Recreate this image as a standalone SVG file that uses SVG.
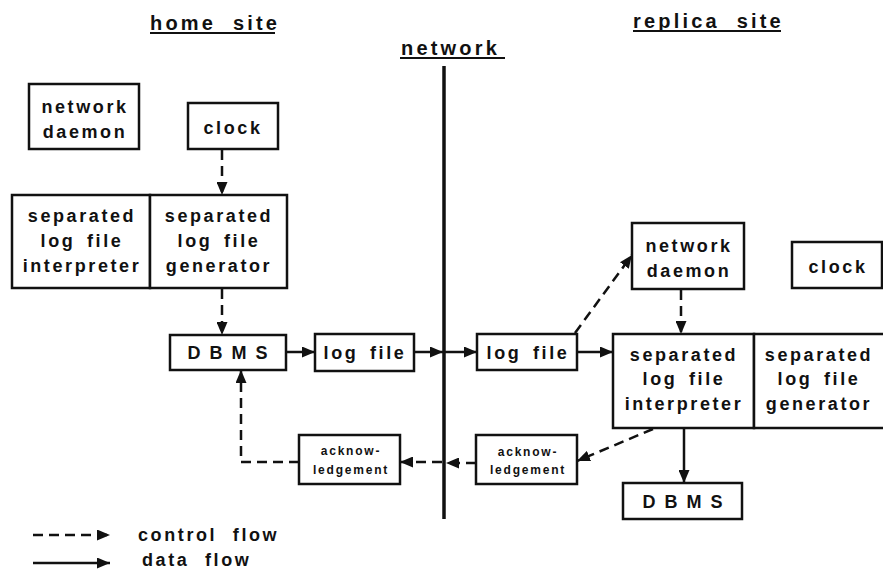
<svg xmlns="http://www.w3.org/2000/svg" width="883" height="571" viewBox="0 0 883 571">
<style>
  .box { fill: #fff; stroke: #111; stroke-width: 2.5; }
  .t { font-family: "Liberation Sans", Arial, sans-serif; font-weight: bold; font-size: 18px; letter-spacing: 2.6px; word-spacing: 4px; fill: #111; text-anchor: middle; }
  .s { font-family: "Liberation Sans", Arial, sans-serif; font-weight: bold; font-size: 12px; letter-spacing: 1.8px; fill: #111; text-anchor: middle; }
  .d { letter-spacing: 9px; }
  .h { font-family: "Liberation Sans", Arial, sans-serif; font-weight: bold; font-size: 20px; letter-spacing: 3.2px; word-spacing: 8px; fill: #111; }
  .lg { font-family: "Liberation Sans", Arial, sans-serif; font-weight: bold; font-size: 18px; letter-spacing: 2.6px; word-spacing: 8px; fill: #111; }
  .ul { stroke: #111; stroke-width: 2; }
  .solid { fill: none; stroke: #111; stroke-width: 2.5; marker-end: url(#ah); }
  .dash { fill: none; stroke: #111; stroke-width: 2.5; stroke-dasharray: 10 6; marker-end: url(#ah); }
</style>
<defs>
  <marker id="ah" markerUnits="userSpaceOnUse" markerWidth="13" markerHeight="11" refX="13" refY="5.5" orient="auto">
    <path d="M0,0 L13,5.5 L0,11 z" fill="#111"/>
  </marker>
</defs>
<rect width="883" height="571" fill="#fff"/>

<g id="titles">
  <text class="h" x="150" y="30">home site</text>
  <line class="ul" x1="150" y1="33" x2="275" y2="33"/>
  <text class="h" x="401" y="55">network</text>
  <line class="ul" x1="400" y1="58" x2="505" y2="58"/>
  <text class="h" x="633" y="28">replica site</text>
  <line class="ul" x1="633" y1="31" x2="781" y2="31"/>
</g>

<g id="network-line">
  <line x1="444" y1="66" x2="444" y2="519" stroke="#111" stroke-width="3.5"/>
</g>

<g id="home-network-daemon">
  <rect class="box" x="29" y="84" width="110" height="65"/>
  <text class="t" x="85" y="113">network</text>
  <text class="t" x="85" y="138">daemon</text>
</g>

<g id="home-clock">
  <rect class="box" x="188" y="103" width="90" height="46"/>
  <text class="t" x="233" y="134">clock</text>
</g>

<g id="home-interpreter">
  <rect class="box" x="12" y="195" width="138" height="93"/>
  <text class="t" x="82" y="222">separated</text>
  <text class="t" x="82" y="247">log file</text>
  <text class="t" x="82" y="272">interpreter</text>
</g>

<g id="home-generator">
  <rect class="box" x="150" y="195" width="137" height="93"/>
  <text class="t" x="219" y="222">separated</text>
  <text class="t" x="219" y="247">log file</text>
  <text class="t" x="219" y="272">generator</text>
</g>

<g id="home-dbms">
  <rect class="box" x="170" y="335" width="116" height="35"/>
  <text class="t d" x="232" y="359">DBMS</text>
</g>

<g id="home-log-file">
  <rect class="box" x="315" y="334" width="99" height="37"/>
  <text class="t" x="365" y="359">log file</text>
</g>

<g id="home-ack">
  <rect class="box" x="299" y="435" width="101" height="49"/>
  <text class="s" x="351" y="455">acknow-</text>
  <text class="s" x="351" y="474">ledgement</text>
</g>

<g id="replica-log-file">
  <rect class="box" x="477" y="334" width="100" height="36"/>
  <text class="t" x="528" y="359">log file</text>
</g>

<g id="replica-network-daemon">
  <rect class="box" x="632" y="223" width="112" height="66"/>
  <text class="t" x="689" y="252">network</text>
  <text class="t" x="689" y="277">daemon</text>
</g>

<g id="replica-clock">
  <rect class="box" x="792" y="242" width="90" height="46"/>
  <text class="t" x="838" y="273">clock</text>
</g>

<g id="replica-interpreter">
  <rect class="box" x="613" y="334" width="141" height="94"/>
  <text class="t" x="684" y="361">separated</text>
  <text class="t" x="684" y="385">log file</text>
  <text class="t" x="684" y="410">interpreter</text>
</g>

<g id="replica-generator">
  <rect class="box" x="754" y="334" width="134" height="94"/>
  <text class="t" x="819" y="361">separated</text>
  <text class="t" x="819" y="385">log file</text>
  <text class="t" x="819" y="410">generator</text>
</g>

<g id="replica-dbms">
  <rect class="box" x="623" y="483" width="119" height="36"/>
  <text class="t d" x="687" y="508">DBMS</text>
</g>

<g id="replica-ack">
  <rect class="box" x="476" y="435" width="101" height="49"/>
  <text class="s" x="528" y="456">acknow-</text>
  <text class="s" x="528" y="474">ledgement</text>
</g>

<g id="connectors">
  <path class="dash" d="M222,150 L222,195"/>
  <path class="dash" d="M222,289 L222,335"/>
  <path class="solid" d="M287,352 L315,352"/>
  <path class="solid" d="M415,352 L443,352"/>
  <path class="solid" d="M445,352 L477,352"/>
  <path class="solid" d="M578,352 L613,352"/>
  <path class="dash" d="M575,333 L632,255"/>
  <path class="dash" d="M681,290 L681,334"/>
  <path class="solid" d="M684,429 L684,483"/>
  <path class="dash" d="M653,429 L577,461"/>
  <path class="dash" d="M476,463 L446,463"/>
  <path class="dash" d="M442,462 L400,462"/>
  <path class="dash" d="M299,462 L241,462 L241,370"/>
</g>

<g id="legend">
  <path class="dash" d="M33,535 L110,535"/>
  <text class="lg" x="138" y="541">control flow</text>
  <path class="solid" d="M33,563 L110,563"/>
  <text class="lg" x="142" y="566">data flow</text>
</g>
</svg>
